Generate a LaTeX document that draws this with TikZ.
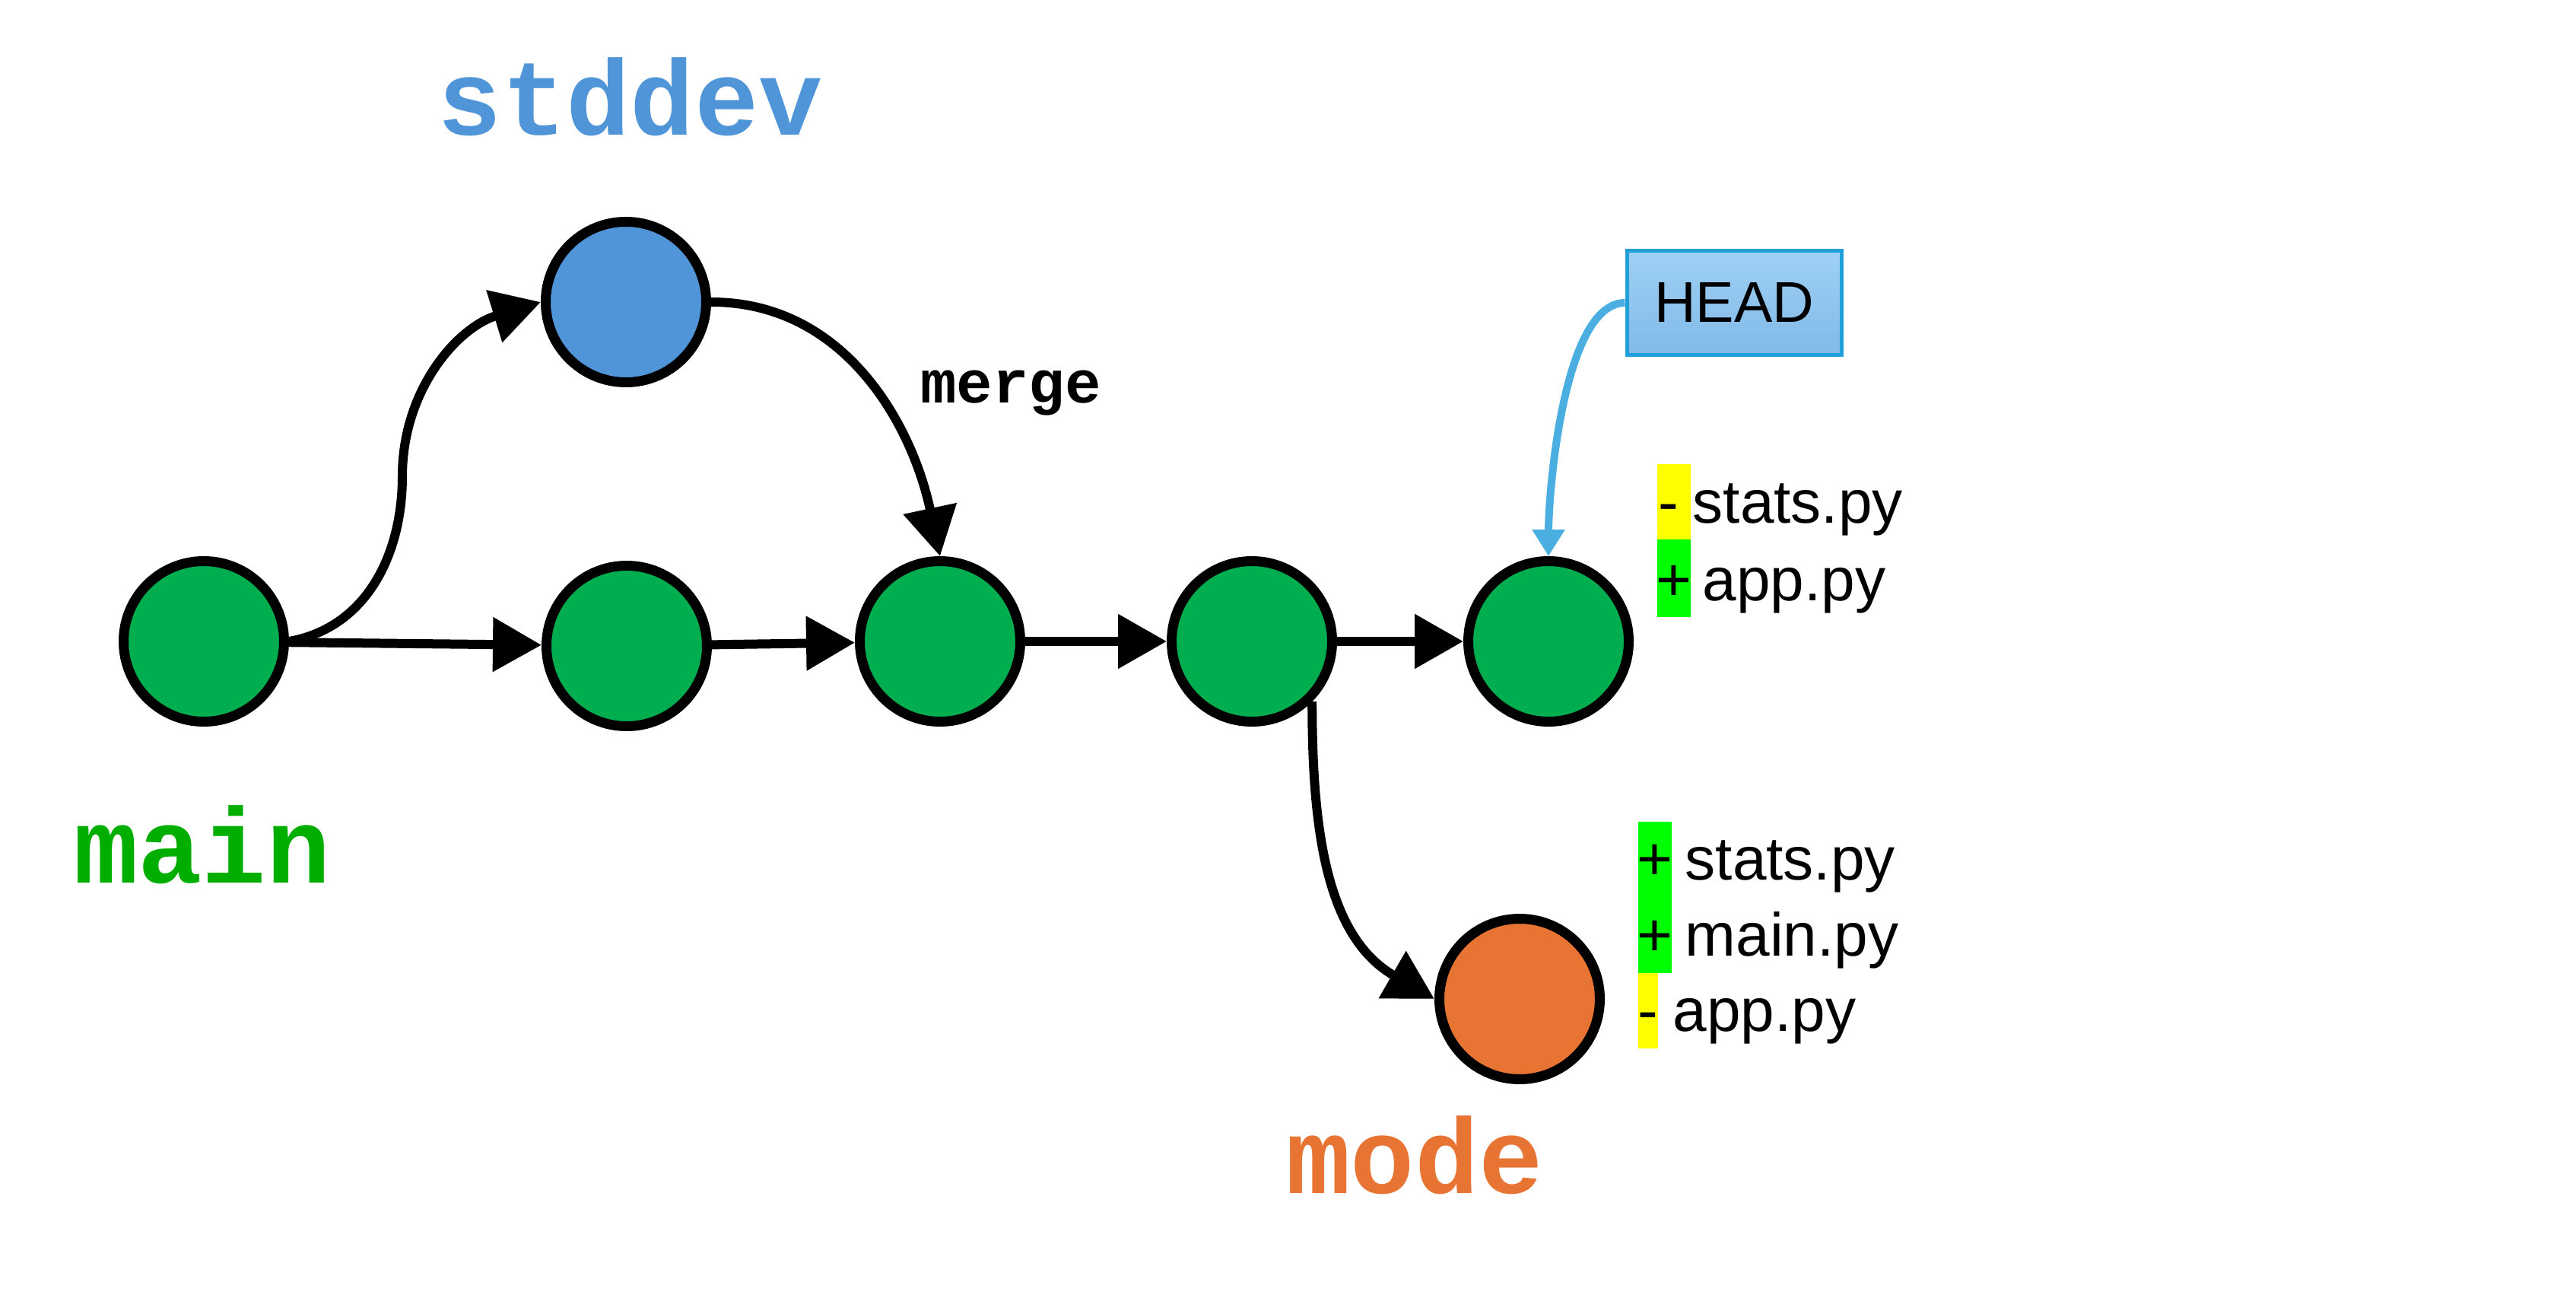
\documentclass[tikz,border=0pt]{standalone}
\usepackage{fontspec}
\setmainfont{Liberation Sans}
\newfontfamily\codefont{Liberation Mono}
\usepackage{tikz}
\usepackage{xcolor}
\usetikzlibrary{arrows.meta}

\definecolor{commitgreen}{HTML}{00AD4F}
\definecolor{devblue}{HTML}{4F95D8}
\definecolor{modeorange}{HTML}{E87434}
\definecolor{maingreen}{HTML}{00AE00}
\definecolor{headtop}{HTML}{A0D0F4}
\definecolor{headbot}{HTML}{80BAE8}
\definecolor{headline}{HTML}{1FA0D8}
\definecolor{pointer}{HTML}{4BAEE0}
\definecolor{hlyellow}{HTML}{FFFF00}
\definecolor{hlgreen}{HTML}{00FF00}

\begin{document}
\begin{tikzpicture}[
    commit/.style={circle, draw=black, line width=0.13cm, minimum size=2.11cm, inner sep=0pt},
    link/.style={line width=0.12cm, -{Triangle[length=0.64cm,width=0.69cm]}},
    branch/.style={font=\codefont\bfseries\fontsize{40}{46}\selectfont, anchor=base, inner sep=0pt},
    fname/.style={font=\fontsize{22.8}{27}\selectfont, anchor=base west, inner sep=0pt}
]
    \useasboundingbox (0,0) rectangle (33.87,17.05);
    % commits
    \node[commit, fill=commitgreen] (c1) at (2.68,8.62) {};
    \node[commit, fill=commitgreen] (c2) at (8.24,8.56) {};
    \node[commit, fill=commitgreen] (c3) at (12.36,8.62) {};
    \node[commit, fill=commitgreen] (c4) at (16.46,8.62) {};
    \node[commit, fill=commitgreen] (c5) at (20.36,8.62) {};
    \node[commit, fill=devblue] (sd) at (8.23,13.08) {};
    \node[commit, fill=modeorange] (mo) at (19.98,3.92) {};
    % branch names
    \node[branch, text=devblue] (sdname) at (8.29,15.27) {stddev};
    \node[branch, text=maingreen] (mainname) at (2.66,5.45) {main};
    \node[branch, text=modeorange] (moname) at (18.60,1.37) {mode};
    \node[font=\codefont\bfseries\fontsize{22.5}{27}\selectfont, anchor=base, inner sep=0pt] (mg) at (13.29,11.75) {merge};
    % HEAD
    \node[draw=headline, line width=0.05cm, top color=headtop, bottom color=headbot,
          minimum width=2.82cm, minimum height=1.37cm, inner sep=0pt,
          font=\fontsize{21.5}{26}\selectfont] (head) at (22.80,13.07) {HEAD};
    % history
    \draw[link] (c1) -- (c2);
    \draw[link] (c2) -- (c3);
    \draw[link] (c3) -- (c4);
    \draw[link] (c4) -- (c5);
    \draw[link] (c1.east) to[out=10,in=-90] (5.29,10.79) to[out=90,in=197] (sd.west);
    \draw[link] (sd.east) to[out=0,in=102] (c3.north);
    \draw[link] (c4.-45) to[out=-90,in=150] (mo.west);
    \draw[pointer, line width=0.1cm, -{Triangle[length=0.35cm,width=0.41cm]}]
        (head.west) to[out=180,in=90,looseness=0.6] (c5.north);
    % changes on main
    \fill[hlyellow] (21.79,10.95) rectangle (22.23,9.96);
    \fill[hlgreen] (21.79,9.96) rectangle (22.23,8.94);
    \node[fname] (s1) at (21.80,10.18) {-};
    \node[fname] (f1) at (22.25,10.18) {stats.py};
    \node[fname] (s2) at (21.77,9.16) {+};
    \node[fname] (f2) at (22.38,9.16) {app.py};
    % changes on mode
    \fill[hlgreen] (21.54,6.25) rectangle (21.98,4.26);
    \fill[hlyellow] (21.54,4.26) rectangle (21.80,3.27);
    \node[fname] (s3) at (21.52,5.49) {+};
    \node[fname] (f3) at (22.15,5.49) {stats.py};
    \node[fname] (s4) at (21.52,4.49) {+};
    \node[fname] (f4) at (22.15,4.49) {main.py};
    \node[fname] (s5) at (21.53,3.50) {-};
    \node[fname] (f5) at (21.99,3.50) {app.py};
\end{tikzpicture}
\end{document}
